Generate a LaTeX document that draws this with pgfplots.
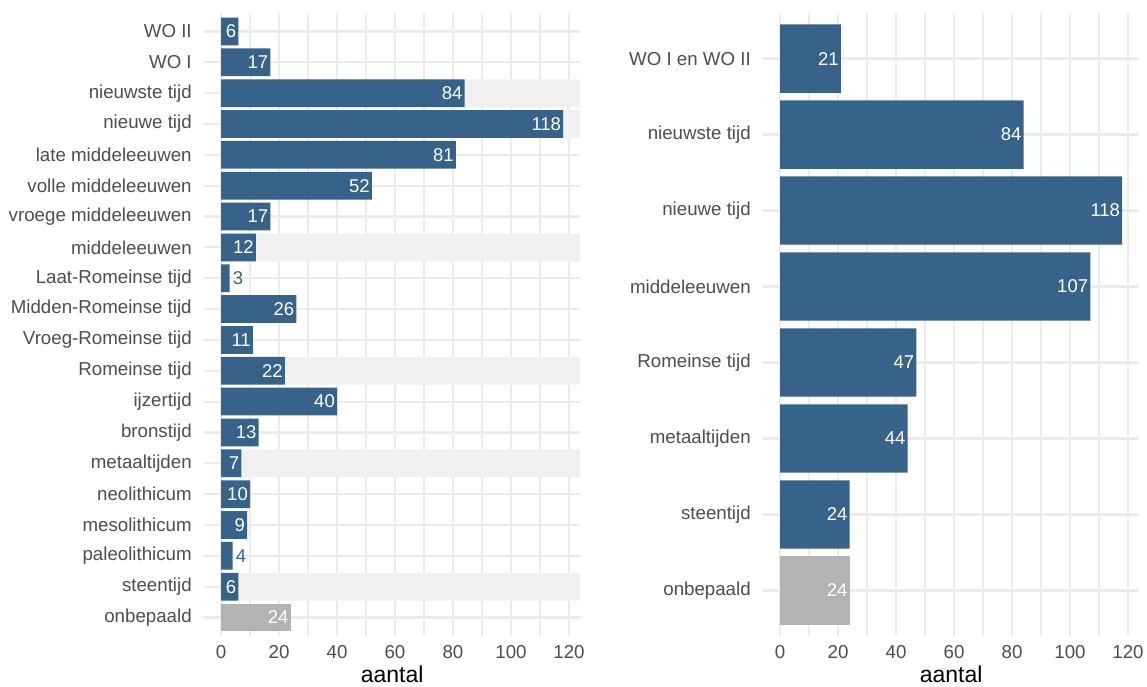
\documentclass[border=0pt]{standalone}
\usepackage{fontspec}
\setmainfont{Liberation Sans}
\usepackage{pgfplots}
\pgfplotsset{compat=1.18}
\definecolor{barblue}{HTML}{37638A}
\definecolor{bargray}{HTML}{B3B3B3}
\definecolor{bandc}{HTML}{F0F0F0}
\definecolor{gridc}{HTML}{EBEBEB}
\definecolor{tickc}{HTML}{4D4D4D}
\pgfplotsset{
  panel/.style={
    scale only axis, width=376.4pt, height=623pt, anchor=south west,
    xmin=-5.9, xmax=123.9, ymin=0.4,
    xbar, bar shift=0pt, bar width=0.9,
    xtick={0,20,...,120}, minor xtick={10,30,...,110},
    grid=both,
    major grid style={gridc, line width=2.2pt},
    minor grid style={gridc, line width=1.2pt},
    axis line style={draw=none},
    major tick length=0pt, minor tick length=0pt,
    /pgf/number format/assume math mode=true,
    tick label style={font=\fontsize{18.7}{22}\selectfont, text=tickc},
    xticklabel style={anchor=north, inner sep=0pt, yshift=-9pt},
    yticklabel style={anchor=east, inner sep=0pt, xshift=-12pt},
    xlabel={aantal},
    xlabel style={at={(axis description cs:0.5,0)}, anchor=base, yshift=-46pt,
      font=\fontsize{23}{26}\selectfont, text=black},
  },
  inlab/.style={nodes near coords,
    every node near coord/.append style={anchor=east, inner sep=0pt, xshift=-2pt,
      font=\fontsize{18.5}{20}\selectfont, text=#1}},
  outlab/.style={nodes near coords,
    every node near coord/.append style={anchor=west, inner sep=0pt, xshift=3pt,
      font=\fontsize{18.5}{20}\selectfont, text=barblue}},
}
\begin{document}
\begin{tikzpicture}
\path[use as bounding box] (0,0) rectangle (1147pt,686pt);
% left panel
\begin{axis}[panel, at={(203.9pt,50pt)}, ymax=20.6,
  ytick={1,...,20},
  yticklabels={onbepaald,steentijd,paleolithicum,mesolithicum,neolithicum,metaaltijden,bronstijd,ijzertijd,Romeinse tijd,Vroeg-Romeinse tijd,Midden-Romeinse tijd,Laat-Romeinse tijd,middeleeuwen,vroege middeleeuwen,volle middeleeuwen,late middeleeuwen,nieuwe tijd,nieuwste tijd,WO I,WO II}]
\addplot[fill=bandc, draw=none] coordinates {(124,2) (124,6) (124,9) (124,13) (124,17) (124,18)};
\addplot[fill=barblue, draw=none, inlab=white] coordinates {
(6,2) (9,4) (10,5) (7,6) (13,7) (40,8) (22,9) (11,10) (26,11) (12,13) (17,14) (52,15) (81,16) (118,17) (84,18) (17,19) (6,20)};
\addplot[fill=barblue, draw=none, outlab] coordinates {(4,3) (3,12)};
\addplot[fill=bargray, draw=none, inlab=white] coordinates {(24,1)};
\end{axis}
% right panel
\begin{axis}[panel, at={(762.9pt,50pt)}, ymax=8.6,
  ytick={1,...,8},
  yticklabels={onbepaald,steentijd,metaaltijden,Romeinse tijd,middeleeuwen,nieuwe tijd,nieuwste tijd,WO I en WO II}]
\addplot[fill=barblue, draw=none, inlab=white] coordinates {
(24,2) (44,3) (47,4) (107,5) (118,6) (84,7) (21,8)};
\addplot[fill=bargray, draw=none, inlab=white] coordinates {(24,1)};
\end{axis}
\end{tikzpicture}
\end{document}
